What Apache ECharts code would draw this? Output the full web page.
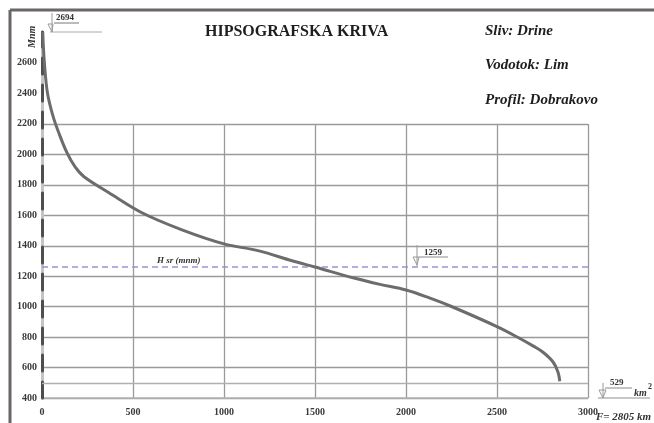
<!DOCTYPE html>
<html>
<head>
<meta charset="UTF-8">
<script src="https://cdn.jsdelivr.net/npm/echarts/dist/echarts.min.js"></script>
<style>
  html, body { margin: 0; padding: 0; background: #fff; }
  #chart { width: 654px; height: 423px; }
</style>
</head>
<body>
<div id="chart"></div>
<script type="text/javascript">
// Curve: area (km2) vs elevation (m n.m.)
const area =      [4,    13,   30,   60,   95,   137,  181,  231,  368,  549,  769,  1000, 1192, 1374, 1500, 1720, 1857, 2000, 2125, 2250, 2500, 2626, 2700, 2753, 2808, 2835, 2845];
const elevation = [2800, 2600, 2400, 2250, 2130, 2009, 1917, 1851, 1746, 1615, 1503, 1411, 1365, 1300, 1259, 1185, 1145, 1108, 1058, 1000, 868,  790,  740,  700,  636,  571,  510];
const meanElevation = 1259;
const lowLine = 500;
const xTicks = [0, 500, 1000, 1500, 2000, 2500, 3000];
const titleText = 'HIPSOGRAFSKA KRIVA';
const infoLines = ['Sliv: Drine', 'Vodotok: Lim', 'Profil: Dobrakovo'];

const serif = '"Liberation Serif", "DejaVu Serif", serif';
const gridColor = '#9a9a9a';

const chart = echarts.init(document.getElementById('chart'));

const option = {
    backgroundColor: '#ffffff',
    animation: false,
    grid: [
        { left: 42, right: 66, top: 32, bottom: 25 },
        { left: 42, right: 66, top: 124, bottom: 25 }
    ],
    xAxis: [
        {
            gridIndex: 0, type: 'value', min: 0, max: 3000, interval: 500,
            axisLine: { show: false }, axisTick: { show: false }, splitLine: { show: false },
            axisLabel: { margin: 9, fontFamily: serif, fontWeight: 'bold', fontSize: 10, color: '#3a3a3a',
                formatter: v => xTicks.indexOf(v) >= 0 ? String(v) : '' }
        },
        {
            gridIndex: 1, type: 'value', min: 0, max: 3000, interval: 500,
            axisLine: { show: true, lineStyle: { color: '#b5b5b5', width: 1.5 } },
            axisTick: { show: false }, axisLabel: { show: false },
            splitLine: { show: true, lineStyle: { color: gridColor, width: 1.3 } }
        }
    ],
    yAxis: [
        {
            gridIndex: 0, type: 'value', position: 'left', min: 400, max: 2800, interval: 200, z: 3,
            axisLine: { show: true, lineStyle: { color: '#4e4e4e', width: 3, type: [16, 11] } },
            axisTick: { show: false }, splitLine: { show: false },
            axisLabel: { margin: 5, showMaxLabel: false, fontFamily: serif, fontWeight: 'bold', fontSize: 10, color: '#3a3a3a',
                formatter: v => String(v) }
        },
        {
            gridIndex: 0, type: 'value', position: 'left', min: 400, max: 2800, z: 2,
            axisLine: { show: true, lineStyle: { color: '#c4c4c4', width: 3 } },
            axisTick: { show: false }, axisLabel: { show: false }, splitLine: { show: false }
        },
        {
            gridIndex: 1, type: 'value', position: 'left', min: 400, max: 2200, interval: 200,
            axisLine: { show: false }, axisTick: { show: false }, axisLabel: { show: false },
            splitLine: { show: true, lineStyle: { color: gridColor, width: 1.3 } }
        }
    ],
    series: [
        {
            type: 'line',
            xAxisIndex: 0, yAxisIndex: 0,
            data: area.map((a, i) => [a, elevation[i]]),
            smooth: 0.35,
            symbol: 'none',
            lineStyle: { color: '#6c6c6c', width: 3 },
            z: 5,
            markLine: {
                silent: true, symbol: 'none', label: { show: false },
                data: [
                    { yAxis: meanElevation, lineStyle: { color: '#a48fcf', type: [6, 4], width: 1.5 } },
                    { yAxis: lowLine, lineStyle: { color: '#b0b0b0', type: 'solid', width: 1.3 } }
                ]
            }
        }
    ],
    graphic: [
        // outer frame
        { type: 'line', shape: { x1: 10, y1: 10, x2: 654, y2: 10 }, style: { stroke: '#6b6663', lineWidth: 3 } },
        { type: 'line', shape: { x1: 10, y1: 10, x2: 10, y2: 423 }, style: { stroke: '#6b6663', lineWidth: 3 } },
        // title and info
        { type: 'text', left: 205, top: 24, style: { text: titleText, font: 'bold 16px ' + serif, fill: '#1e1e1e' } },
        { type: 'text', left: 485, top: 24, style: { text: infoLines[0], font: 'italic bold 15px ' + serif, fill: '#1e1e1e' } },
        { type: 'text', left: 485, top: 58, style: { text: infoLines[1], font: 'italic bold 15px ' + serif, fill: '#1e1e1e' } },
        { type: 'text', left: 485, top: 93, style: { text: infoLines[2], font: 'italic bold 15px ' + serif, fill: '#1e1e1e' } },
        // axis unit
        { type: 'text', x: 27, y: 48, rotation: Math.PI / 2, style: { text: 'Mnm', font: 'italic bold 10px ' + serif, fill: '#333' } },
        // top marker 2694
        { type: 'line', shape: { x1: 52, y1: 13, x2: 52, y2: 32 }, style: { stroke: '#999', lineWidth: 1 } },
        { type: 'line', shape: { x1: 50, y1: 32, x2: 102, y2: 32 }, style: { stroke: '#aaa', lineWidth: 1 } },
        { type: 'line', shape: { x1: 54, y1: 23, x2: 79, y2: 23 }, style: { stroke: '#777', lineWidth: 1 } },
        { type: 'polygon', shape: { points: [[48, 24], [53, 24], [52, 32]] }, style: { fill: 'none', stroke: '#999', lineWidth: 1 } },
        { type: 'text', left: 56, top: 13, style: { text: '2694', font: 'bold 9px ' + serif, fill: '#333' } },
        // mean marker 1259
        { type: 'line', shape: { x1: 417, y1: 245, x2: 417, y2: 266 }, style: { stroke: '#999', lineWidth: 1 } },
        { type: 'line', shape: { x1: 419, y1: 257, x2: 448, y2: 257 }, style: { stroke: '#888', lineWidth: 1 } },
        { type: 'polygon', shape: { points: [[413, 257], [419, 257], [417, 265]] }, style: { fill: 'none', stroke: '#999', lineWidth: 1 } },
        { type: 'text', left: 424, top: 248, style: { text: '1259', font: 'bold 9px ' + serif, fill: '#333' } },
        { type: 'text', left: 157, top: 256, style: { text: 'H sr (mnm)', font: 'italic bold 9px ' + serif, fill: '#333' } },
        // min marker 529
        { type: 'line', shape: { x1: 598, y1: 398, x2: 650, y2: 398 }, style: { stroke: '#b5b5b5', lineWidth: 1.5 } },
        { type: 'line', shape: { x1: 603, y1: 383, x2: 603, y2: 398 }, style: { stroke: '#999', lineWidth: 1 } },
        { type: 'line', shape: { x1: 605, y1: 388, x2: 632, y2: 388 }, style: { stroke: '#888', lineWidth: 1 } },
        { type: 'polygon', shape: { points: [[599, 390], [606, 390], [603, 398]] }, style: { fill: 'none', stroke: '#999', lineWidth: 1 } },
        { type: 'text', left: 610, top: 378, style: { text: '529', font: 'bold 9px ' + serif, fill: '#333' } },
        { type: 'text', left: 634, top: 388, style: { text: 'km', font: 'italic bold 10px ' + serif, fill: '#333' } },
        { type: 'text', left: 648, top: 383, style: { text: '2', font: 'bold 8px ' + serif, fill: '#333' } },
        { type: 'text', left: 596, top: 412, style: { text: 'F= 2805 km', font: 'italic bold 11px ' + serif, fill: '#333' } }
    ]
};

chart.setOption(option);
</script>
</body>
</html>
